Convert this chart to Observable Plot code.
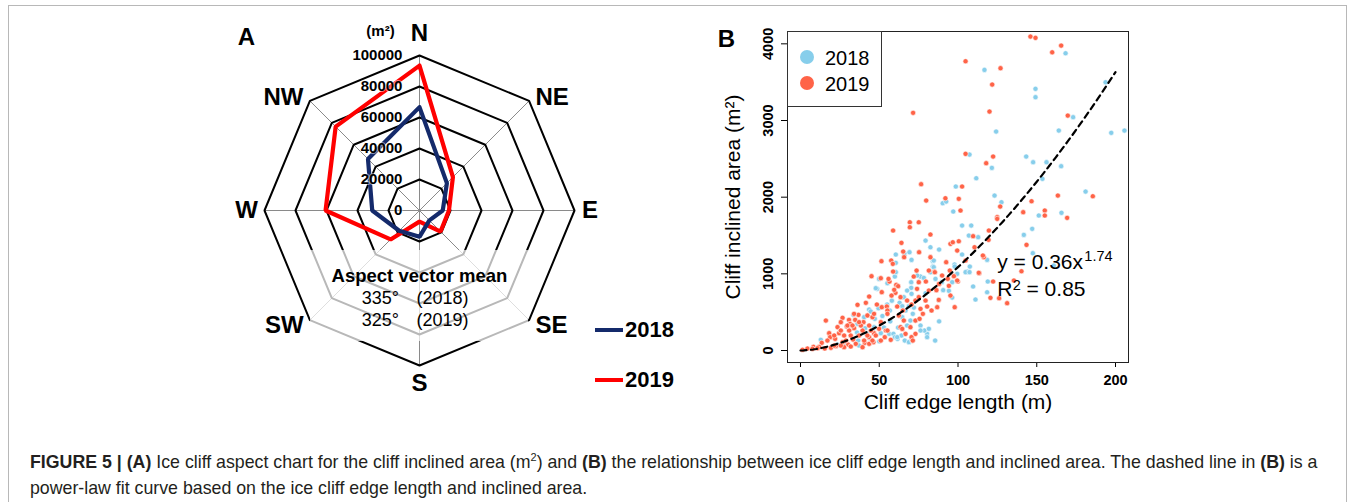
<!DOCTYPE html>
<html><head><meta charset="utf-8">
<script src="https://cdn.jsdelivr.net/npm/d3@7"></script>
<script src="https://cdn.jsdelivr.net/npm/@observablehq/plot@0.6"></script>
<style>
body{margin:0;background:#fff;font-family:"Liberation Sans",Arial,Helvetica,sans-serif;}
#page{position:relative;width:1354px;height:502px;overflow:hidden;background:#fff;}
#border{position:absolute;left:8px;top:5px;width:1337px;height:540px;border:1px solid #b8b8b8;}
#radar{position:absolute;left:220px;top:10px;}
#scatter{position:absolute;left:700px;top:10px;}
#scatter g[aria-label^="x-axis"] text,#scatter g[aria-label^="y-axis"] text{font-weight:bold;font-size:14.5px;fill:#000;}
.leg{position:absolute;font-weight:bold;font-size:22px;color:#000;line-height:22px;}
.legline{position:absolute;height:4px;width:28px;}
#sleg{position:absolute;left:787px;top:31px;width:95px;height:76px;border:1px solid #333;background:#fff;box-sizing:border-box;}
.sdot{position:absolute;width:14px;height:14px;border-radius:50%;}
.stxt{position:absolute;font-size:20px;line-height:20px;color:#000;}
.caption{position:absolute;left:30px;top:444px;font-size:17.75px;line-height:26px;color:#231f20;white-space:nowrap;}
</style></head>
<body>
<div id="page">
  <div id="border"></div>
  <div id="radar"></div>
  <div id="scatter"></div>
  <div class="legline" style="left:595px;top:328px;background:#142a6b"></div>
  <div class="leg" style="left:625px;top:319px">2018</div>
  <div class="legline" style="left:595px;top:378px;background:#ff0000"></div>
  <div class="leg" style="left:625px;top:369px">2019</div>
  <div id="sleg">
    <div class="sdot" style="left:12px;top:18px;background:#87ceeb"></div>
    <div class="stxt" style="left:37px;top:16px">2018</div>
    <div class="sdot" style="left:12px;top:44px;background:#ff6347"></div>
    <div class="stxt" style="left:37px;top:42px">2019</div>
  </div>
  <div class="caption"><b>FIGURE 5 | (A)</b> Ice cliff aspect chart for the cliff inclined area (m<sup style="font-size:11px">2</sup>) and <b>(B)</b> the relationship between ice cliff edge length and inclined area. The dashed line in <b>(B)</b> is a<br>power-law fit curve based on the ice cliff edge length and inclined area.</div>
</div>
<script>
// ---------- Panel A data ----------
const directions = ["N","NE","E","SE","S","SW","W","NW"];
const area2018 = [66700, 25000, 15000, 9000, 17000, 18500, 30500, 47000];
const area2019 = [93500, 30500, 19000, 19200, 7200, 26400, 60600, 76500];
const ringLevels = [20000, 40000, 60000, 80000, 100000];
const tickValues = [0, 20000, 40000, 60000, 80000, 100000];
const tickLabels = ["0", "20000", "40000", "60000", "80000", "100000"];
const meanLines = [["335°", "(2018)"], ["325°", "(2019)"]];

// ---------- Panel B data: [edge length (m), inclined area (m2)] ----------
const cliffs2018 = [
[98.6,2139],[168.3,3877],[116.8,3660],[149.2,3413],[149.2,3304],[193.7,3499],[173.1,3043],[124.2,2856],[164,2869],[197.3,2839],[205.7,2869],[107.3,2556],[121.5,2382],[143.3,2530],[147.7,2456],[156.2,2456],[165.5,2404],[111.6,2247],[153.6,2239],[123.2,2021],[181,2073],[90.3,1921],[92.5,1943],[127.6,1934],
[165.7,1796],[151.3,1761],[97,1813],[102.6,1630],[112.8,1478],[141.8,1508],[147.1,1587],[66,1239],[66,1269],[82.5,1347],[88,1317],[84,1165],[84,1095],[102.6,1252],[97.8,1122],[107.5,1095],[108.4,1630],[118.5,1182],[48.7,804],[59.9,965],[76.2,965],[82.5,1021],[89.7,891],[96.3,891],[105.8,1030],[109.6,835],[111.1,665],[118.5,760],[118.9,900],[147.5,1269],[160.8,1108],[106.9,1499],[79.4,1434],[69.2,1282],[70.5,1182],[84.6,1174],[84.6,1087],[74.1,978],[78.3,947],[85.7,934],[97.9,1096],[70.3,891],[70.3,817],[79.4,747],[90.6,787],[94.2,778],[104.8,1022],[107.3,1022],[99.5,1000],[96.3,691],[67.7,782],[70.5,739],[65.6,696],[62.9,622],[64.6,578],[68.8,578],[66.7,522],[85.5,130],[80.4,217],[60.5,1252],[60.5,1143],[60.5,1022],
[49.9,934],[55.2,878],[47.8,813],[43.6,535],[44.6,509],[49.5,552],[56.7,522],[33.6,465],[40.4,435],[47.2,413],[36.2,348],[12.9,139],[23.5,78],[36.6,130],[37.2,65],[51,226],[56.3,217],[59,217],[59.9,174],[61.6,152],
[71.3,478],[64.6,435],[69.8,391],[67.7,326],[76.2,326],[78.7,261],[80.4,174],[64.1,196],[66.2,130],[68.8,109],[61.4,174],[70.9,130],[76.2,261],[81.5,283],
[45.7,261],[35.9,235],[46.7,304],[53,300],[57,380],[41,290],[52,450],[55,600],[58,650],[28,100],[42,220],[44,160],[50,120],[62,300],[72,560],[88,380]
];
const cliffs2019 = [
[146,4095],[149.2,4078],[159.8,3890],[165.5,3977],[104.8,3773],[127,3682],[121.7,3469],[120,3117],[169.7,3064],[71.5,3100],[104.8,2565],[117.9,2443],[122.3,2530],[76.6,2169],[102.6,2139],[163.4,2021],[185.6,2012],[79.8,1956],[92,1986],[100.5,1978],[146.7,1947],
[141.4,1804],[124.9,1739],[155.1,1826],[155.1,1761],[169.3,1730],[126.8,1878],[101.6,1826],[58.8,1565],[69.4,1673],[75.1,1673],[69.4,1608],[82.5,1513],[64.1,1404],[95.2,1391],[96.7,1412],[100.5,1425],[109.6,1491],[119.4,1443],[143.5,1378],[65.2,1291],[65.8,1217],[57.6,1174],[58.6,1130],[75.3,1282],[82.5,1217],[92.5,1152],[104.8,1174],[116.4,1217],[51.4,1165],[45.1,969],[51,943],[56.5,900],[60.8,856],[73.7,1043],[71.9,965],[79.6,900],[85.1,1030],[88,869],[93.5,935],[97.4,969],[99.9,900],[113.5,1008],[120.6,687],[122.3,900],[126.1,682],[131.2,617],[140.3,1034],[110.5,1347],[99.5,1304],[119.6,1565],[124.9,1717],[115.8,1239],[81.5,1043],[85.3,1021],[89.9,978],[94.8,1043],[75.1,891],[74,804],[81.5,782],[86.3,787],[94.2,843],[99.5,913],[113.2,1013],[87.8,660],[80.4,574],[83.2,522],[86.8,565],[97.9,565],[95.2,717],[63.5,696],[67.7,652],[73,652],[75.1,696],[79.4,652],[62,839],[60.3,752],[135.5,913],
[58.8,1030],[55.9,934],[51.6,761],[59.5,791],[57.8,717],[43.6,704],[36.2,596],[41.5,622],[48.5,600],[51.6,565],[54.8,574],[55.2,522],[26.7,426],[16.1,391],[36.8,465],[30.8,400],[42.5,457],[45.7,435],[40,370],[23.5,305],[29.4,313],[34,291],[18.2,226],[13.5,100],[18.8,174],[24.5,226],[22,152],[26.7,109],[30.3,78],[33.4,143],[40.8,100],[43.6,174],[46.7,226],[49.9,283],[54.2,261],[53.5,174],[57.3,139],[8.2,48],[4.4,26],[11.8,48],[15.4,26],[19.3,35],[22.4,57],
[61.4,574],[65,522],[70.5,600],[76.2,543],[77.7,478],[62.4,456],[65.6,391],[63.5,304],[69.8,304],[73,391],[75.6,413],[70.5,174],[73,217],[66.7,217],[71.3,130],[64.6,282],
[27.7,43],[31.9,52],[35.1,87],[39.4,43],[43.6,87],[46.3,109],[34.7,400],[31.5,348],
[1.3,10],[7.6,22],[10.8,30],[21.4,65],[25.6,65],[17.1,130],[28.8,130],[40.4,130],[45.7,130],[51,130],[21.4,196],[27.7,196],[31.9,196],[37.2,196],[42.5,196],[47.8,196],[25.6,261],[30.9,261],[39.4,261],[44.7,261],[55.2,261],[29.8,326],[33,326],[38.3,326],[43.6,326],[25.6,370],[37.2,370],[51,370],[34,478],[46.7,478],[55.2,478]
];
const fitA = 0.36, fitB = 1.74;
const fitX = d3.range(0, 200.001, 2);

const FONT = '"Liberation Sans", Arial, Helvetica, sans-serif';
const rad = i => i * Math.PI / 4;
const px = (v, i) => v * Math.sin(rad(i));
const py = (v, i) => v * Math.cos(rad(i));

// ---------- Panel A: radar ----------
const ringRows = ringLevels.flatMap(L => d3.range(9).map(i => ({L, x: px(L, i % 8), y: py(L, i % 8)})));
const seriesRows = (vals) => d3.range(9).map(i => ({x: px(vals[i % 8], i % 8), y: py(vals[i % 8], i % 8)}));
const spokes = directions.map((d, i) => ({x: px(100000, i), y: py(100000, i)}));
const labelOffsets = [[0,-22],[23,-4],[15.5,0],[22.5,5.5],[0,18],[-25.5,5.5],[-18,0],[-26.5,-4]];
const mid = {textAnchor: "middle", lineAnchor: "middle"};

const radar = Plot.plot({
  width: 480, height: 410, margin: 0,
  x: {domain: [-100000, 100000], range: [44, 354], axis: null},
  y: {domain: [-100000, 100000], range: [355, 45], axis: null},
  style: {fontFamily: FONT, background: "transparent"},
  marks: [
    Plot.link(spokes, {x1: 0, y1: 0, x2: "x", y2: "y", stroke: "#8a8a8a", strokeWidth: 1}),
    Plot.line(ringRows, {x: "x", y: "y", z: "L", stroke: "#000", strokeWidth: 2, strokeLinejoin: "miter"}),
    Plot.rect([0], {x1: -70300, x2: 70300, y1: -25800, y2: -84500, fill: "white", fillOpacity: 0.72}),
    Plot.line(seriesRows(area2019), {x: "x", y: "y", stroke: "#ff0000", strokeWidth: 4.2, strokeLinejoin: "miter"}),
    Plot.line(seriesRows(area2018), {x: "x", y: "y", stroke: "#142a6b", strokeWidth: 4.2, strokeLinejoin: "miter"}),
    Plot.text(tickLabels, {x: -11000, y: (d, i) => tickValues[i], textAnchor: "end", fontWeight: "bold", fontSize: 15, fill: "#000", stroke: "white", strokeWidth: 2, strokeOpacity: 0.5}),
    ...directions.map((d, i) => Plot.text([d], {x: px(100000, i), y: py(100000, i), dx: labelOffsets[i][0], dy: labelOffsets[i][1], fontWeight: "bold", fontSize: 24, fill: "#000"})),
    Plot.text(["A"], {frameAnchor: "top-left", ...mid, dx: 26, dy: 27, fontWeight: "bold", fontSize: 24, fill: "#000"}),
    Plot.text(["(m²)"], {frameAnchor: "top-left", ...mid, dx: 160, dy: 21, fontWeight: "bold", fontSize: 15, fill: "#000"}),
    Plot.text(["Aspect vector mean"], {x: 0, y: -42000, fontWeight: "bold", fontSize: 18.5, fill: "#000"}),
    Plot.text(meanLines, {x: -25200, y: (d, i) => -56800 - i * 14200, text: d => d[0], fontSize: 18, fill: "#000"}),
    Plot.text(meanLines, {x: 14800, y: (d, i) => -56800 - i * 14200, text: d => d[1], fontSize: 18, fill: "#000"})
  ]
});
document.getElementById("radar").appendChild(radar);

// ---------- Panel B: scatter ----------
const rows = [
  ...cliffs2018.map(([len, area]) => ({len, area, year: "2018"})),
  ...cliffs2019.map(([len, area]) => ({len, area, year: "2019"}))
];
const scatter = Plot.plot({
  width: 440, height: 410,
  marginLeft: 87, marginRight: 12, marginTop: 21, marginBottom: 58,
  x: {domain: [-8.25, 208.25], ticks: [0, 50, 100, 150, 200], tickFormat: d => String(d), tickSize: 5, tickPadding: 7, label: null},
  y: {domain: [-156.5, 4161], ticks: [0, 1000, 2000, 3000, 4000], tickFormat: d => String(d), tickSize: 6, tickPadding: 9, tickRotate: -90, label: null},
  color: {domain: ["2018", "2019"], range: ["#87ceeb", "#ff6347"]},
  style: {fontFamily: FONT, fontSize: "14.5px", background: "transparent", color: "#000"},
  marks: [
    Plot.dot(rows, {x: "len", y: "area", fill: "year", r: 2.6, stroke: "white", strokeWidth: 0.6}),
    Plot.line(fitX, {x: d => d, y: d => fitA * d ** fitB, stroke: "#000", strokeWidth: 2.2, strokeDasharray: "6,4.5"}),
    Plot.frame({stroke: "#222", strokeWidth: 1}),
    Plot.text(["B"], {frameAnchor: "top-left", ...mid, dx: -61, dy: 7.5, fontWeight: "bold", fontSize: 24, fill: "#000"}),
    Plot.text(["y = 0.36x"], {x: 124.9, y: 1151, textAnchor: "start", fontSize: 21, fill: "#000"}),
    Plot.text(["1.74"], {x: 180.2, y: 1225, textAnchor: "start", fontSize: 14.5, fill: "#000"}),
    Plot.text(["R"], {x: 124.9, y: 805, textAnchor: "start", fontSize: 21, fill: "#000"}),
    Plot.text(["2"], {x: 134.8, y: 845, textAnchor: "start", fontSize: 14.5, fill: "#000"}),
    Plot.text(["= 0.85"], {x: 143.5, y: 805, textAnchor: "start", fontSize: 21, fill: "#000"}),
    Plot.text(["Cliff edge length (m)"], {frameAnchor: "bottom", ...mid, dy: 40, fontSize: 21, fill: "#000"}),
    Plot.text(["Cliff inclined area (m²)"], {frameAnchor: "left", ...mid, dx: -54, rotate: -90, fontSize: 21, fill: "#000"})
  ]
});
document.getElementById("scatter").appendChild(scatter);
</script>
</body></html>
